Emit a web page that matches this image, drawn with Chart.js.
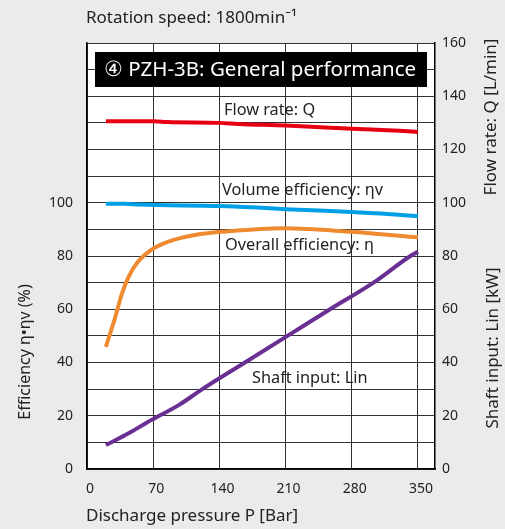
<!DOCTYPE html>
<html lang="en">
<head>
<meta charset="UTF-8">
<title>PZH-3B General performance</title>
<script src="https://cdn.jsdelivr.net/npm/chart.js@4/dist/chart.umd.min.js"></script>
<style>
  html, body { margin: 0; padding: 0; background: #ebebeb; }
  #wrap { position: relative; width: 505px; height: 529px; }
</style>
</head>
<body>
<div id="wrap"><canvas id="perfChart"></canvas></div>
<script>
// discharge pressure P [Bar] (x) and values
const flowP      = [20, 70, 85, 140, 160, 210, 280, 330, 350];
const flowRate   = [130.6, 130.6, 130.3, 130.0, 129.6, 129.0, 127.8, 127.0, 126.6];   // L/min

const volP       = [20, 40, 55, 140, 175, 210, 280, 330, 350];
const volumeEff  = [99.6, 99.6, 99.3, 98.8, 98.3, 97.6, 96.5, 95.5, 94.9];            // %

const overallP   = [20, 30, 37, 44, 54, 68, 86, 114, 150, 208, 279, 350];
const overallEff = [45.9, 57.2, 66.0, 72.2, 77.9, 82.3, 85.4, 87.9, 89.3, 90.4, 89.1, 87.0]; // %

const shaftP     = [20, 44, 68, 97, 122, 167, 212, 257, 303, 342, 350];
const shaftInput = [9.0, 13.4, 18.4, 24.0, 30.0, 40.0, 50.0, 60.0, 70.0, 80.0, 81.6]; // kW

const xTicks     = [0, 70, 140, 210, 280, 350];

const FONT = "'Noto Sans', 'Open Sans', sans-serif";

function pts(xs, ys) {
    return xs.map((p, i) => ({ x: p, y: ys[i] }));
}

// white plot area + all the free text (titles, curve labels, the black title box)
const decor = {
    id: 'decor',
    beforeDraw(chart) {
        const { ctx, chartArea: a } = chart;
        ctx.save();
        ctx.fillStyle = '#ebebeb';
        ctx.fillRect(0, 0, chart.width, chart.height);
        ctx.fillStyle = '#ffffff';
        ctx.fillRect(a.left, a.top, a.right - a.left, a.bottom - a.top);
        ctx.restore();
    },
    afterDraw(chart) {
        const { ctx } = chart;
        ctx.save();
        ctx.fillStyle = '#222';
        ctx.textBaseline = 'middle';

        ctx.font = '17px ' + FONT;
        ctx.textAlign = 'left';
        ctx.fillText('Rotation speed: 1800min\u207B\u00B9', 86, 18);
        ctx.fillText('Discharge pressure P [Bar]', 86, 516);

        // rotated axis titles
        const vtext = (t, x, y) => {
            ctx.save();
            ctx.translate(x, y);
            ctx.rotate(-Math.PI / 2);
            ctx.textAlign = 'center';
            ctx.fillText(t, 0, 0);
            ctx.restore();
        };
        ctx.font = '16px ' + FONT;
        vtext('Efficiency \u03B7\u2022\u03B7v (%)', 25, 352);
        ctx.font = '17px ' + FONT;
        vtext('Flow rate: Q [L/min]', 491, 117);
        vtext('Shaft input: Lin [kW]', 493, 348);

        // curve labels
        ctx.font = '16.3px ' + FONT;
        ctx.textAlign = 'left';
        ctx.fillText('Flow rate: Q', 224, 110);
        ctx.fillText('Volume efficiency: \u03B7v', 222, 190);
        ctx.fillText('Overall efficiency: \u03B7', 225, 245);
        ctx.fillText('Shaft input: Lin', 252, 378);

        // black title box
        ctx.fillStyle = '#000';
        ctx.fillRect(95, 52, 332, 35);
        ctx.fillStyle = '#fff';
        ctx.font = '20.5px ' + FONT;
        ctx.fillText('\u2463 PZH-3B: General performance', 104, 70);
        ctx.restore();
    }
};

const lineSet = (label, data, color, axis) => ({
    label: label,
    data: data,
    borderColor: color,
    borderWidth: 4,
    pointRadius: 0,
    cubicInterpolationMode: 'monotone',
    fill: false,
    yAxisID: axis
});

new Chart(document.getElementById('perfChart'), {
    type: 'line',
    data: {
        datasets: [
            lineSet('Flow rate: Q', pts(flowP, flowRate), '#e60012', 'y2'),
            lineSet('Volume efficiency', pts(volP, volumeEff), '#00a0e9', 'y'),
            lineSet('Overall efficiency', pts(overallP, overallEff), '#f08a30', 'y'),
            lineSet('Shaft input', pts(shaftP, shaftInput), '#6a2f92', 'y2')
        ]
    },
    options: {
        responsive: true,
        maintainAspectRatio: false,
        animation: false,
        layout: { padding: { top: 43, left: 0, right: 0, bottom: 0 } },
        plugins: { legend: { display: false }, tooltip: { enabled: false } },
        scales: {
            x: {
                type: 'linear',
                min: 0,
                max: 368,
                afterBuildTicks: (s) => { s.ticks = xTicks.map(v => ({ value: v })); },
                afterFit: (s) => { s.height = 60; },
                grid: { color: '#333', lineWidth: 1, drawTicks: false },
                border: { color: '#000', width: 1.5 },
                ticks: { color: '#222', font: { family: FONT, size: 14 }, padding: 12, maxRotation: 0, labelOffset: 3 }
            },
            y: {
                position: 'left',
                min: 0,
                max: 160,
                afterFit: (s) => { s.width = 87; },
                grid: { color: '#333', lineWidth: 1, drawTicks: false },
                border: { color: '#000', width: 1.5 },
                ticks: {
                    stepSize: 10,
                    color: '#222',
                    font: { family: FONT, size: 14 },
                    padding: 14,
                    callback: (v) => (v % 20 === 0 && v <= 100) ? v : ''
                }
            },
            y2: {
                position: 'right',
                min: 0,
                max: 160,
                afterFit: (s) => { s.width = 70; },
                grid: { display: false, drawTicks: false },
                border: { color: '#000', width: 1.5 },
                ticks: {
                    stepSize: 20,
                    color: '#222',
                    font: { family: FONT, size: 14 },
                    padding: 7
                }
            }
        }
    },
    plugins: [decor]
});
</script>
</body>
</html>
